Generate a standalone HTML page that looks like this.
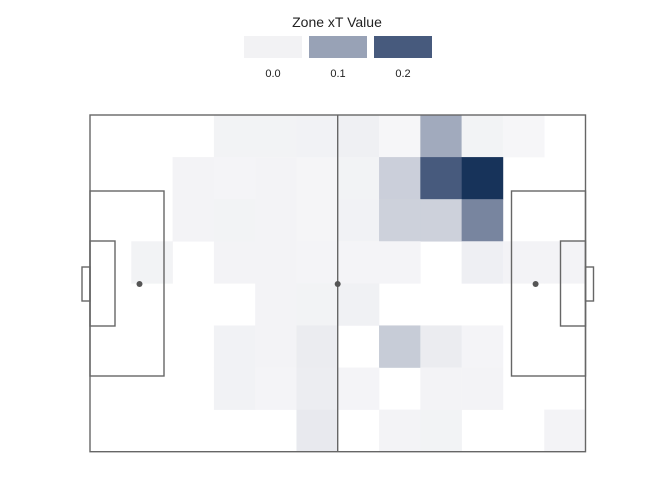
<!DOCTYPE html>
<html><head><meta charset="utf-8"><style>
body{margin:0;background:#fff;font-family:"Liberation Sans",sans-serif;}
</style></head><body>
<svg id="chart" width="672" height="480" xmlns="http://www.w3.org/2000/svg">
<rect width="672" height="480" fill="#fff"/>
<g id="legend">
<text x="337" y="27" text-anchor="middle" font-size="14" fill="#222">Zone xT Value</text>
</g>
<g id="cells"></g>
<g id="pitch" fill="none" stroke="#666" stroke-width="1.4">
<rect x="90" y="115" width="495.5" height="336.7"/>
<line x1="337.7" y1="115" x2="337.7" y2="451.7"/>
<rect x="90" y="191" width="74" height="185"/>
<rect x="90" y="241" width="25" height="85"/>
<rect x="82" y="267" width="8" height="34"/>
<rect x="511.5" y="191" width="74" height="185"/>
<rect x="560.5" y="241" width="25" height="85"/>
<rect x="585.5" y="267" width="8" height="34"/>
</g>
<g fill="#555">
<circle cx="139.5" cy="284" r="3"/>
<circle cx="337.7" cy="284" r="3"/>
<circle cx="535.6" cy="284" r="3"/>
</g>
</svg>
<script>
const legendValues=[0.0,0.1,0.2];
const legendLabels=["0.0","0.1","0.2"];
const xtRow0=[null,null,null,0.004,0.004,0.005,0.007,0.0,0.09,0.004,0.0,null];
const xtRow1=[null,null,0.003,0.002,0.003,0.001,0.004,0.046,0.2,0.25,null,null];
const xtRow2=[null,null,0.003,0.004,0.003,0.001,0.005,0.044,0.044,0.14,null,null];
const xtRow3=[null,0.004,null,0.003,0.003,0.002,0.002,0.002,null,0.008,0.003,0.003];
const xtRow4=[null,null,null,null,0.003,0.004,0.006,null,null,null,null,null];
const xtRow5=[null,null,null,0.005,0.003,0.012,null,0.05,0.012,0.002,null,null];
const xtRow6=[null,null,null,0.005,0.002,0.011,0.002,null,0.003,0.003,null,null];
const xtRow7=[null,null,null,null,null,0.015,null,0.003,0.004,null,null,0.003];
const rows=[xtRow0,xtRow1,xtRow2,xtRow3,xtRow4,xtRow5,xtRow6,xtRow7];
const NS="http://www.w3.org/2000/svg";
const x0=90,x1=585.5,y0=115,y1=451.7,nc=12,nr=8;
const xScale=i=>x0+(x1-x0)*i/nc;
const yScale=j=>y0+(y1-y0)*j/nr;
const stops=[[0,[246,246,248]],[0.1,[152,162,182]],[0.2,[71,90,125]],[0.25,[23,51,90]]];
function color(v){
  for(let k=0;k<stops.length-1;k++){
    const [a,ca]=stops[k],[b,cb]=stops[k+1];
    if(v<=b||k===stops.length-2){
      const t=Math.max(0,Math.min(1,(v-a)/(b-a)));
      return "rgb("+ca.map((c,i)=>Math.round(c+(cb[i]-c)*t)).join(",")+")";
    }
  }
}
const g=document.getElementById("cells");
rows.forEach((row,j)=>row.forEach((v,i)=>{
  if(v===null)return;
  const r=document.createElementNS(NS,"rect");
  r.setAttribute("x",xScale(i));r.setAttribute("y",yScale(j));
  r.setAttribute("width",xScale(i+1)-xScale(i)+0.3);r.setAttribute("height",yScale(j+1)-yScale(j)+0.3);
  r.setAttribute("fill",color(v));
  
  
  g.appendChild(r);
}));
const lg=document.getElementById("legend");
legendValues.forEach((v,k)=>{
  const x=244+k*65;
  const r=document.createElementNS(NS,"rect");
  r.setAttribute("x",x);r.setAttribute("y",36);r.setAttribute("width",58);r.setAttribute("height",22);
  r.setAttribute("fill",k===0?"#f2f2f4":color(v));
  
  
  lg.appendChild(r);
  const t=document.createElementNS(NS,"text");
  t.setAttribute("x",x+29);t.setAttribute("y",77);t.setAttribute("text-anchor","middle");
  t.setAttribute("font-size","11");t.setAttribute("fill","#222");
  t.textContent=legendLabels[k];
  
  
  lg.appendChild(t);
});
</script>
</body></html>
